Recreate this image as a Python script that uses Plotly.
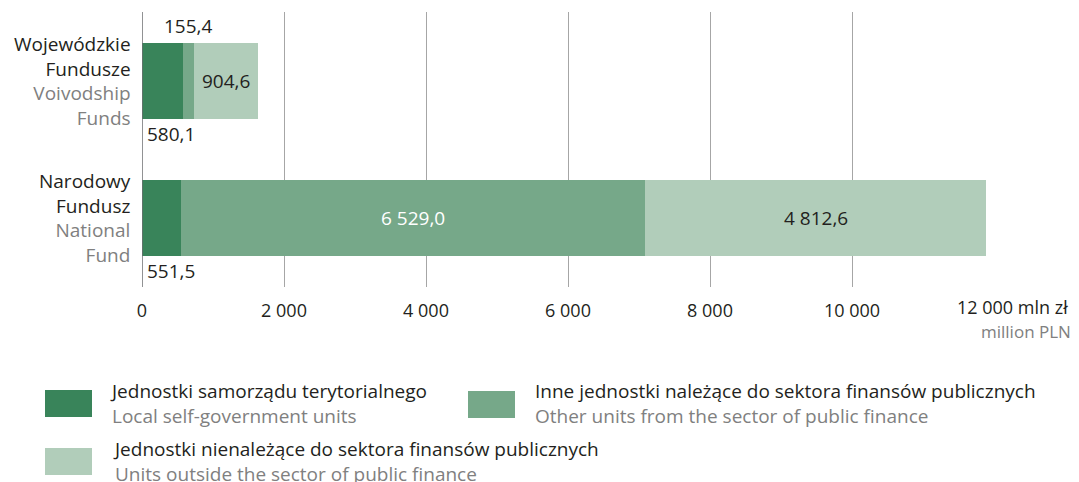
import plotly.graph_objects as go

categories = ["Wojewódzkie Fundusze", "Narodowy Fundusz"]
cat_pl = [["Wojewódzkie", "Fundusze"], ["Narodowy", "Fundusz"]]
cat_en = [["Voivodship", "Funds"], ["National", "Fund"]]
series_pl = ["Jednostki samorządu terytorialnego",
             "Inne jednostki należące do sektora finansów publicznych",
             "Jednostki nienależące do sektora finansów publicznych"]
series_en = ["Local self-government units",
             "Other units from the sector of public finance",
             "Units outside the sector of public finance"]
local_units = [580.1, 551.5]
other_public = [155.4, 6529.0]
outside_public = [904.6, 4812.6]
tick_vals = [0, 2000, 4000, 6000, 8000, 10000, 12000]
tick_text = ["0", "2 000", "4 000", "6 000", "8 000", "10 000", ""]
last_tick_label = "12 000 mln zł"
unit_en = "million PLN"

colors = ["#39845a", "#76a889", "#b1cdba"]
DARK = "#231f20"
GRAY = "#808080"
FONT = "Open Sans"
FS = 19

OFF = 8  # browser body margin
W, H = 1079 - OFF, 482 - OFF
L, R, T, B = 134, 85, 4, 195
PW, PH = W - L - R, H - T - B


def px(x):
    return (x - OFF - L) / PW


def py(y):
    return (H - B - (y - OFF)) / PH


def fmt(v):
    return f"{v:,.1f}".replace(",", " ").replace(".", ",")


fig = go.Figure()
for vals, col in zip([local_units, other_public, outside_public], colors):
    fig.add_trace(go.Bar(y=categories, x=vals, orientation="h",
                         marker=dict(color=col, line=dict(width=0)),
                         showlegend=False, hoverinfo="skip"))

ann = []
for i, c in enumerate(categories):
    text = "<br>".join(cat_pl[i]) + "<br>" + \
        "<br>".join(f"<span style='color:{GRAY}'>{t}</span>" for t in cat_en[i])
    ann.append(dict(x=px(133), y=c, xref="paper", yref="y", text=text,
                    xanchor="right", yanchor="middle", align="right",
                    showarrow=False, font=dict(family=FONT, size=FS, color=DARK)))

for i, c in enumerate(categories):
    ann.append(dict(x=0, y=i, xref="x", yref="y", text=fmt(local_units[i]),
                    xanchor="left", yanchor="top", yshift=-38, xshift=3,
                    showarrow=False, font=dict(family=FONT, size=FS, color=DARK)))
    ann.append(dict(x=local_units[i] + other_public[i] + outside_public[i] / 2, y=i,
                    xref="x", yref="y", text=fmt(outside_public[i]),
                    xanchor="center", yanchor="middle", showarrow=False,
                    font=dict(family=FONT, size=FS, color=DARK)))
ann.append(dict(x=local_units[0] + other_public[0] / 2, y=0, xref="x", yref="y",
                text=fmt(other_public[0]), xanchor="center", yanchor="bottom",
                yshift=40, showarrow=False,
                font=dict(family=FONT, size=FS, color=DARK)))
ann.append(dict(x=local_units[1] + other_public[1] / 2, y=1, xref="x", yref="y",
                text=fmt(other_public[1]), xanchor="center", yanchor="middle",
                showarrow=False, font=dict(family=FONT, size=FS, color="white")))

ann.append(dict(x=px(955), y=py(307), xref="paper", yref="paper", text=last_tick_label,
                xanchor="left", yanchor="middle", showarrow=False,
                font=dict(family=FONT, size=18, color=DARK)))
ann.append(dict(x=px(1073), y=py(331), xref="paper", yref="paper", text=unit_en,
                xanchor="right", yanchor="middle", showarrow=False,
                font=dict(family=FONT, size=17, color=GRAY)))

shapes = []
legend_pos = [(45, 390, 108, 403), (468, 391, 533, 403), (45, 448, 111, 462)]
for k, (sx, sy, tx, ty) in enumerate(legend_pos):
    shapes.append(dict(type="rect", xref="paper", yref="paper",
                       x0=px(sx), x1=px(sx + 47), y0=py(sy), y1=py(sy + 27),
                       fillcolor=colors[k], line=dict(width=0)))
    ann.append(dict(x=px(tx), y=py(ty), xref="paper", yref="paper",
                    text=f"{series_pl[k]}<br><span style='color:{GRAY}'>{series_en[k]}</span>",
                    xanchor="left", yanchor="middle", align="left",
                    showarrow=False, font=dict(family=FONT, size=FS, color=DARK)))

fig.update_layout(
    width=W, height=H, barmode="stack", bargap=0.445,
    margin=dict(l=L, r=R, t=T, b=B),
    plot_bgcolor="white", paper_bgcolor="white",
    font=dict(family=FONT, size=FS, color=DARK),
    annotations=ann, shapes=shapes,
    xaxis=dict(range=[0, 12000], tickvals=tick_vals, ticktext=tick_text,
               showgrid=True, gridcolor="#a6a6a6", gridwidth=1,
               zeroline=False, showline=False, ticks="", ticklabelstandoff=11,
               tickfont=dict(family=FONT, size=18, color=DARK)),
    yaxis=dict(autorange="reversed", showticklabels=False, showgrid=False,
               zeroline=False, showline=False),
)
fig.add_shape(type="line", xref="x", yref="paper", x0=0, x1=0, y0=0, y1=1,
              line=dict(color="#6d6e71", width=1.5))
fig.write_html("out.html")
